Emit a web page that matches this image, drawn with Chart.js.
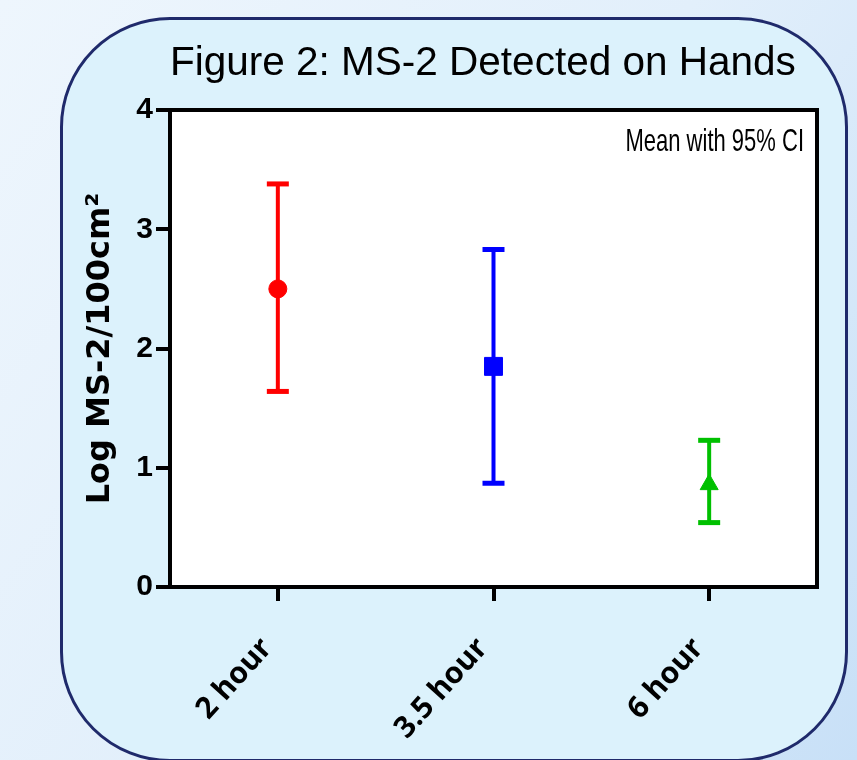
<!DOCTYPE html>
<html>
<head>
<meta charset="utf-8">
<script src="https://cdn.jsdelivr.net/npm/chart.js@4.4.1/dist/chart.umd.min.js"></script>
<style>
  html, body { margin: 0; padding: 0; }
  body {
    width: 857px; height: 760px; overflow: hidden; position: relative;
    background: linear-gradient(125deg, #eef6fd 0%, #e2effb 50%, #c8e0f7 100%);
  }
  #panel {
    position: absolute; left: 60px; top: 17px; width: 788px; height: 745px;
    box-sizing: border-box; border: 3px solid #1f2a6b; border-radius: 110px;
    background: #dcf2fc;
  }
  #chartCanvas { position: absolute; left: 0; top: 0; }
</style>
</head>
<body>
<div id="panel"></div>
<canvas id="chartCanvas" width="857" height="760"></canvas>
<script>
// data
const groups = ['2 hour', '3.5 hour', '6 hour'];
const means  = [2.50, 1.85, 0.86];
const lower  = [1.64, 0.87, 0.54];
const upper  = [3.38, 2.83, 1.23];
const colors = ['#ff0000', '#0000ff', '#00c000'];
const markers = ['circle', 'rect', 'triangle'];
const markerSizes = [9, 12.7, 10.4];
const yTicks = [0, 1, 2, 3, 4];

// white plot area + top/right frame + the "Mean with 95% CI" note
const plotFrame = {
  id: 'plotFrame',
  beforeDraw: (chart) => {
    const {ctx, chartArea: a} = chart;
    ctx.save();
    ctx.fillStyle = '#ffffff';
    ctx.fillRect(a.left, a.top, a.right - a.left, a.bottom - a.top);
    ctx.restore();
  },
  beforeDatasetsDraw: (chart) => {
    const {ctx, chartArea: a} = chart;
    ctx.save();
    ctx.strokeStyle = '#000';
    ctx.lineWidth = 4;
    ctx.beginPath();
    ctx.moveTo(a.left - 2, a.top);
    ctx.lineTo(a.right, a.top);
    ctx.lineTo(a.right, a.bottom + 2);
    ctx.stroke();
    // note, drawn stretched vertically like the pasted prism graph
    ctx.fillStyle = '#000';
    ctx.font = '22px "Liberation Sans", Arial, sans-serif';
    ctx.textAlign = 'right';
    ctx.textBaseline = 'alphabetic';
    ctx.translate(a.right - 13, a.top + 41);
    ctx.scale(1, 1.45);
    ctx.fillText('Mean with 95% CI', 0, 0);
    ctx.restore();
  }
};

const datasets = [{
  type: 'line',
  label: 'Mean',
  data: groups.map((g, i) => ({x: g, y: means[i]})),
  showLine: false,
  pointStyle: markers,
  pointRadius: markerSizes,
  pointBackgroundColor: colors,
  pointBorderColor: colors,
  pointBorderWidth: 1
}];
groups.forEach((g, i) => {
  datasets.push({
    type: 'line',
    label: g + ' CI',
    data: [{x: g, y: lower[i]}, {x: g, y: upper[i]}],
    borderColor: colors[i],
    borderWidth: 4,
    pointStyle: 'line',
    pointRadius: 11,
    pointBorderWidth: 5,
    pointBorderColor: colors[i]
  });
});

const ctx = document.getElementById('chartCanvas').getContext('2d');
const myChart = new Chart(ctx, {
  type: 'line',
  data: { labels: groups, datasets: datasets },
  options: {
    responsive: false,
    animation: false,
    events: [],
    layout: { padding: { left: 0, right: 40, top: 0, bottom: 0 } },
    plugins: {
      legend: { display: false },
      tooltip: { enabled: false },
      title: {
        display: true,
        text: 'Figure 2: MS-2 Detected on Hands',
        fullSize: false,
        align: 'start',
        color: '#000',
        font: { family: '"Liberation Sans", Arial, sans-serif', size: 40.5, weight: 'normal', lineHeight: 1.2 },
        padding: { top: 40, bottom: 21.4 }
      }
    },
    scales: {
      x: {
        type: 'category',
        offset: true,
        afterFit: (scale) => { scale.height = 173; },
        border: { display: true, color: '#000', width: 4 },
        grid: { offset: false, drawOnChartArea: false, drawTicks: true, tickLength: 14, color: '#000', lineWidth: 4 },
        ticks: {
          autoSkip: false,
          minRotation: 48,
          maxRotation: 48,
          padding: 30,
          labelOffset: -11,
          color: '#000',
          font: { family: '"Open Sans", sans-serif', size: 30, weight: 'bold' }
        }
      },
      y: {
        min: 0,
        max: 4,
        afterFit: (scale) => { scale.width = 170; },
        afterBuildTicks: (scale) => { scale.ticks = yTicks.map(v => ({value: v})); },
        border: { display: true, color: '#000', width: 4 },
        grid: { drawOnChartArea: false, drawTicks: true, tickLength: 14, color: '#000', lineWidth: 4 },
        ticks: {
          padding: 3,
          color: '#000',
          font: { family: '"Liberation Sans", Arial, sans-serif', size: 30, weight: 'bold' }
        },
        title: {
          display: true,
          text: 'Log MS-2/100cm²',
          color: '#000',
          font: { family: '"DejaVu Sans", sans-serif', size: 32, weight: 'bold', lineHeight: 1.2 },
          padding: { top: 81, bottom: 0 }
        }
      }
    }
  },
  plugins: [plotFrame]
});
</script>
</body>
</html>
